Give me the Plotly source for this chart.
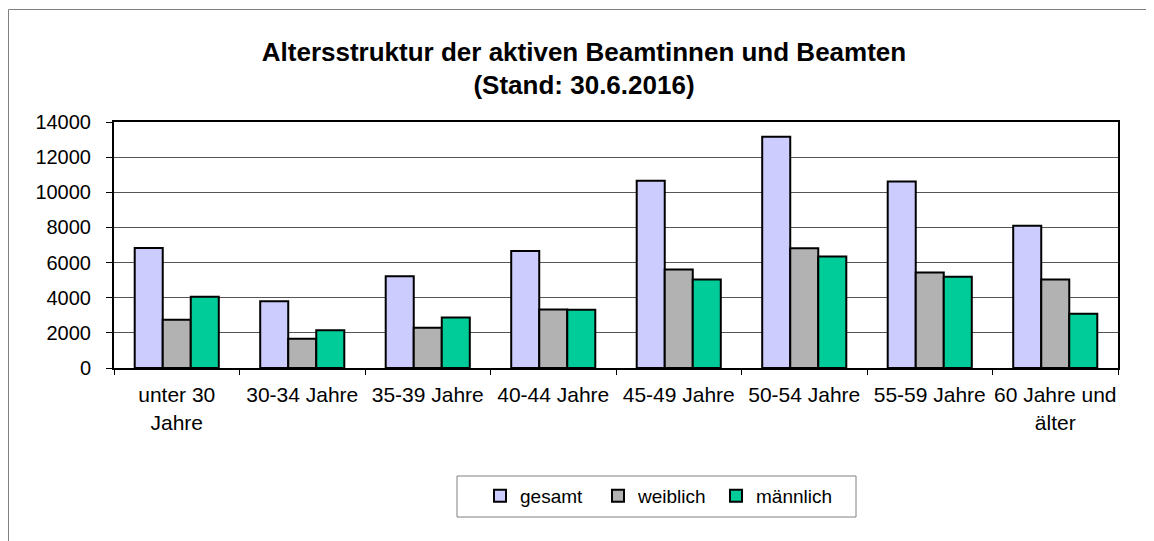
import plotly.graph_objects as go

categories = ["unter 30<br>Jahre", "30-34 Jahre", "35-39 Jahre", "40-44 Jahre",
              "45-49 Jahre", "50-54 Jahre", "55-59 Jahre", "60 Jahre und<br>älter"]
gesamt = [6830, 3800, 5220, 6660, 10660, 13160, 10610, 8090]
weiblich = [2750, 1660, 2290, 3330, 5600, 6820, 5430, 5030]
maennlich = [4060, 2150, 2870, 3320, 5030, 6340, 5200, 3090]
y_ticks = [0, 2000, 4000, 6000, 8000, 10000, 12000, 14000]

series = [("gesamt", gesamt, "#CCCCFF"), ("weiblich", weiblich, "#B2B2B2"), ("männlich", maennlich, "#00CC99")]

OFF = 8  # page body margin
W, H = 1154 - OFF, 541 - OFF
L, R, T, B = 114 - OFF, 36, 122 - OFF, 173
pw, ph = W - L - R, H - T - B
FONT = "Liberation Sans, Arial, sans-serif"


def px_x(sx):  # screen x -> paper x
    return (sx - OFF - L) / pw


def px_y(sy):  # screen y -> paper y
    return (H - B - (sy - OFF)) / ph


fig = go.Figure()
for name, vals, col in series:
    fig.add_trace(go.Bar(x=categories, y=vals, name=name,
                         marker=dict(color=col, line=dict(color="black", width=2))))

fig.update_layout(
    width=W, height=H, margin=dict(l=L, r=R, t=T, b=B, autoexpand=False),
    plot_bgcolor="white", paper_bgcolor="white",
    barmode="group", bargap=0.33, bargroupgap=0,
    font=dict(family=FONT, color="black", size=20),
    title=dict(text="<b>Altersstruktur der aktiven Beamtinnen und Beamten<br>(Stand: 30.6.2016)</b>",
               x=(584 - OFF) / W, xanchor="center", y=1 - 52.5 / H, yanchor="middle",
               font=dict(size=26, family=FONT, color="black")),
    legend=dict(orientation="h", xref="container", yref="container",
                x=(480 - OFF) / W, xanchor="left", y=1 - (496 - OFF) / H, yanchor="middle",
                borderwidth=0, bgcolor="rgba(0,0,0,0)", font=dict(size=19),
                traceorder="normal", itemwidth=30, entrywidth=73, entrywidthmode="pixels"),
    showlegend=True,
)
fig.update_xaxes(type="category", tickson="boundaries", ticks="outside", ticklen=5, tickcolor="black",
                 showline=True, linecolor="black", linewidth=2, mirror=True, showgrid=False,
                 tickangle=0, tickfont=dict(size=21), automargin=False, ticklabelstandoff=7)
fig.update_yaxes(range=[0, 14000], tickvals=y_ticks, tickformat="d", ticks="outside", ticklen=6,
                 tickcolor="black", showline=True, linecolor="black", linewidth=2, mirror=True,
                 showgrid=True, gridcolor="#555555", gridwidth=1, zeroline=False,
                 tickfont=dict(size=20), automargin=False, ticklabelstandoff=11)

# outer chart frame (top and left edges; the rest lies outside the picture)
frame = dict(color="#808080", width=1)
fig.add_shape(type="line", xref="paper", yref="paper",
              x0=px_x(8.5), x1=px_x(1154), y0=px_y(9.5), y1=px_y(9.5), line=frame, layer="below")
fig.add_shape(type="line", xref="paper", yref="paper",
              x0=px_x(8.5), x1=px_x(8.5), y0=px_y(9.5), y1=px_y(541), line=frame, layer="below")
# legend frame
fig.add_shape(type="rect", xref="paper", yref="paper",
              x0=px_x(457), x1=px_x(856), y0=px_y(517), y1=px_y(476),
              line=dict(color="#808080", width=1), fillcolor="rgba(0,0,0,0)", layer="below")

fig.write_html("out.html")
